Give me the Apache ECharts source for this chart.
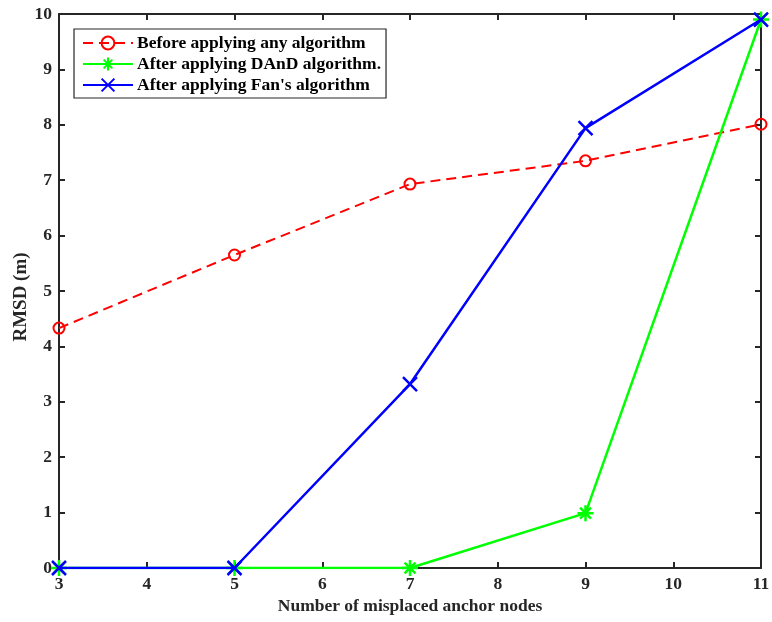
<!DOCTYPE html>
<html>
<head>
<meta charset="utf-8">
<script src="https://cdn.jsdelivr.net/npm/echarts@6/dist/echarts.min.js"></script>
<style>html,body{margin:0;padding:0;background:#fff;}#c{width:772px;height:622px;}</style>
</head>
<body>
<div id="c"></div>
<script>
const categories = [3, 5, 7, 9, 11];
const beforeValues = [4.33, 5.65, 6.93, 7.35, 8.01];
const dandValues = [0, 0, 0, 0.99, 9.9];
const fanValues = [0, 0, 3.32, 7.94, 9.9];
const seriesNames = ["Before applying any algorithm", "After applying DAnD algorithm.", "After applying Fan's algorithm"];
const xTitle = "Number of misplaced anchor nodes";
const yTitle = "RMSD (m)";

const font = "Liberation Serif";
const axisColor = "#262626";
const fs = 17.5;
const pairs = v => categories.map((c, i) => [c, v[i]]);

const xPath = "path://M0,0 L10,10 M10,0 L0,10";
const starPath = "path://M5,0 L5,10 M0,5 L10,5 M1.6,1.6 L8.4,8.4 M8.4,1.6 L1.6,8.4";

const chart = echarts.init(document.getElementById('c'));
const baseAxis = {
  axisLine: {show: true, onZero: false, lineStyle: {color: axisColor, width: 2}},
  axisTick: {show: true, inside: true, length: 6, lineStyle: {color: axisColor, width: 2}},
  splitLine: {show: false}
};
chart.setOption({
  animation: false,
  backgroundColor: '#fff',
  grid: {left: 59, right: 11, top: 14, bottom: 54, containLabel: false, outerBoundsMode: 'none'},
  legend: {
    orient: 'vertical', left: 74, top: 29,
    backgroundColor: '#fff', borderColor: axisColor, borderWidth: 1.2,
    padding: [5, 5, 4, 8], itemGap: 3, itemWidth: 50, itemHeight: 16,
    textStyle: {fontFamily: font, fontWeight: 'bold', fontSize: fs, color: '#000', padding: [0, 0, 0, -1]},
    data: seriesNames
  },
  xAxis: [
    Object.assign({}, baseAxis, {
      type: 'value', min: 3, max: 11, interval: 1, position: 'bottom',
      name: xTitle, nameLocation: 'middle', nameGap: 29, nameMoveOverlap: false,
      nameTextStyle: {fontFamily: font, fontWeight: 'bold', fontSize: fs, color: axisColor},
      axisLabel: {fontFamily: font, fontWeight: 'bold', fontSize: fs, color: axisColor, margin: 7}
    }),
    Object.assign({}, baseAxis, {
      type: 'value', min: 3, max: 11, interval: 1, position: 'top',
      axisLabel: {show: false}
    })
  ],
  yAxis: [
    Object.assign({}, baseAxis, {
      type: 'value', min: 0, max: 10, interval: 1, position: 'left',
      name: yTitle, nameLocation: 'middle', nameGap: 28, nameMoveOverlap: false,
      nameTextStyle: {fontFamily: font, fontWeight: 'bold', fontSize: 19, color: axisColor, padding: [0, 12, 0, 0]},
      axisLabel: {fontFamily: font, fontWeight: 'bold', fontSize: fs, color: axisColor, margin: 7}
    }),
    Object.assign({}, baseAxis, {
      type: 'value', min: 0, max: 10, interval: 1, position: 'right',
      axisLabel: {show: false}
    })
  ],
  series: [
    {
      name: seriesNames[0], type: 'line', data: pairs(beforeValues),
      symbol: 'circle', symbolSize: 11, z: 2,
      lineStyle: {color: '#ff0000', width: 2, type: [10, 6]},
      itemStyle: {color: 'rgba(255,255,255,0)', borderColor: '#ff0000', borderWidth: 2}
    },
    {
      name: seriesNames[1], type: 'line', data: pairs(dandValues),
      symbol: starPath, symbolSize: 16, z: 3,
      lineStyle: {color: '#00ff00', width: 2.5},
      itemStyle: {color: 'rgba(0,0,0,0)', borderColor: '#00ff00', borderWidth: 2.5}
    },
    {
      name: seriesNames[2], type: 'line', data: pairs(fanValues),
      symbol: xPath, symbolSize: 14, z: 4,
      lineStyle: {color: '#0000ff', width: 2.5},
      itemStyle: {color: 'rgba(0,0,0,0)', borderColor: '#0000ff', borderWidth: 2.5}
    }
  ]
});
</script>
</body>
</html>
